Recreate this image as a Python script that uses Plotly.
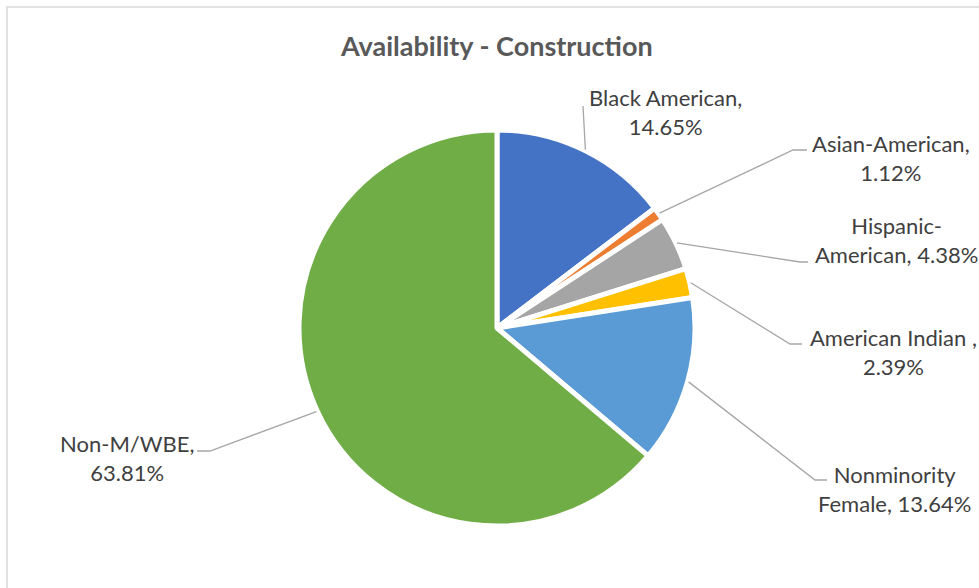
import math
import plotly.graph_objects as go

# ---- data ----
categories = ["Black American", "Asian-American", "Hispanic-<br>American",
              "American Indian ", "Nonminority<br>Female", "Non-M/WBE"]
values = [14.65, 1.12, 4.38, 2.39, 13.64, 63.81]
value_on_new_line = [True, True, False, True, False, True]
colors = ["#4472C4", "#ED7D31", "#A5A5A5", "#FFC000", "#5B9BD5", "#70AD47"]

# ---- layout constants (pixels) ----
W, H = 979, 588
CX, CY, R = 497, 328, 198
# label centre, leader elbow point, leader end x
label_pos = [(665, 112), (891, 158), (896, 240), (893, 352), (894, 489), (127, 458)]
elbows = [(583, 106), (793, 150), (800, 262), (790, 344), (815, 480), (210, 451)]
ends_x = [583, 807, 808, 802, 827, 197]

def px(x):
    return x / W

def py(y):
    return 1 - y / H

fig = go.Figure()
fig.add_trace(go.Pie(
    labels=[c.replace("<br>", " ") for c in categories],
    values=values,
    sort=False,
    direction="clockwise",
    rotation=0,
    textinfo="none",
    hoverinfo="label+percent",
    marker=dict(colors=colors, line=dict(color="white", width=5)),
    domain=dict(x=[(CX - R) / W, (CX + R) / W], y=[(H - CY - R) / H, (H - CY + R) / H]),
    showlegend=False,
))

total = sum(values)
cum = 0.0
shapes = []
annotations = []
for i, (cat, v) in enumerate(zip(categories, values)):
    mid = (cum + v / 2) / total * 2 * math.pi
    cum += v
    sx = CX + (R + 1) * math.sin(mid)
    sy = CY - (R + 1) * math.cos(mid)
    ex, ey = elbows[i]
    path = f"M {px(sx)},{py(sy)} L {px(ex)},{py(ey)} L {px(ends_x[i])},{py(ey)}"
    shapes.append(dict(type="path", xref="paper", yref="paper", path=path,
                       line=dict(color="#A6A6A6", width=1.3)))
    sep = ",<br>" if value_on_new_line[i] else ", "
    text = f"{cat}{sep}{v:.2f}%"
    lx, ly = label_pos[i]
    annotations.append(dict(text=text, x=px(lx), y=py(ly), xref="paper", yref="paper",
                            showarrow=False, xanchor="center", yanchor="middle",
                            align="center",
                            font=dict(family="Lato, 'Noto Sans', sans-serif", size=22, color="#404040")))

# chart-area frame
shapes.append(dict(type="path", xref="paper", yref="paper",
                   path=f"M {px(7)},{py(600)} L {px(7)},{py(7)} L {px(1000)},{py(7)}",
                   line=dict(color="#D9D9D9", width=1.5)))

annotations.append(dict(text="<b>Availability - Construction</b>", x=px(497), y=py(46),
                        xref="paper", yref="paper", showarrow=False,
                        xanchor="center", yanchor="middle",
                        font=dict(family="Lato, 'Noto Sans', sans-serif", size=27, color="#595959")))

fig.update_layout(
    width=W, height=H,
    margin=dict(l=0, r=0, t=0, b=0),
    paper_bgcolor="white", plot_bgcolor="white",
    shapes=shapes, annotations=annotations,
)

fig.write_html("out.html",
               config={"displayModeBar": False},
               post_script="document.body.style.margin='0';document.body.style.overflow='hidden';")
